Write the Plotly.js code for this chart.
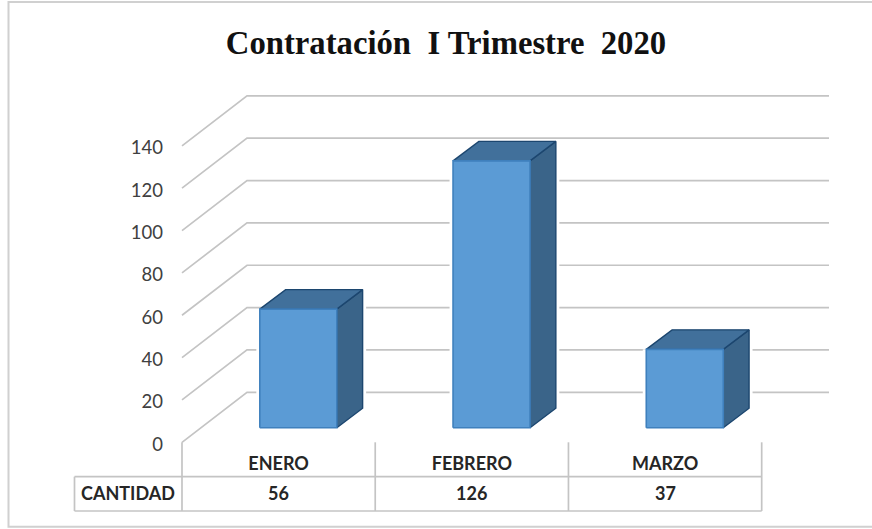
<!DOCTYPE html>
<html><head><meta charset="utf-8">
<script src="https://cdn.plot.ly/plotly-3.0.1.min.js"></script>
<style>html,body{margin:0;padding:0;background:#fff}</style></head>
<body><div id="chart" style="width:872px;height:529px"></div>
<script>
const categories = ["ENERO", "FEBRERO", "MARZO"];
const cantidad = [56, 126, 37];
const yTicks = [0, 20, 40, 60, 80, 100, 120, 140];
const rowLabel = "CANTIDAD";
const chartTitle = "Contratación  I Trimestre  2020";

const font = "Lato, 'Open Sans', sans-serif";
const W = 872, H = 529;
const L = 182, B = 442.3, gridRight = 829;
const pxX = 193.23, pxY = 2.1175;
const ux = p => p / pxX, uy = p => p / pxY;
const xStart = -0.5;
const xEnd = xStart + categories.length;
const xRange = [xStart - ux(L), xStart + ux(W - L)];
const yRange = [-uy(H - B), uy(B)];

const wallX = ux(65), wallY = uy(50);
const barOff = ux(19.7), barW = ux(77), barBase = uy(14.6);
const depX = ux(25.8), depY = uy(19.5);
const tableMid = -uy(476.7 - B), tableBot = -uy(511 - B), rowY = -uy(493 - B);
const tableLeft = xStart - ux(L - 74.5);
const wallRight = xStart + ux(gridRight - L);
const gridCol = "#c4c4c4";

const traces = [];
function line(x, y, color, width) {
  traces.push({type:"scatter", mode:"lines", x, y, hoverinfo:"skip", showlegend:false,
    line:{color, width}});
}
function poly(x, y, fill, color, width) {
  traces.push({type:"scatter", mode:"lines", x, y, fill:"toself", fillcolor:fill,
    hoverinfo:"skip", showlegend:false, line:{color, width}});
}
// walls
yTicks.forEach(v => line([xStart, xStart + wallX, wallRight], [v, v + wallY, v + wallY], gridCol, 1.7));
// table
for (let i = 0; i <= categories.length; i++) {
  line([xStart + i, xStart + i], [0, tableBot], gridCol, 1.7);
}
line([tableLeft, tableLeft], [tableMid, tableBot], gridCol, 1.7);
line([tableLeft, xEnd], [tableMid, tableMid], gridCol, 1.7);
line([tableLeft, xEnd], [tableBot, tableBot], gridCol, 1.7);
// bars
cantidad.forEach((v, i) => {
  const x0 = i + barOff - barW / 2, x1 = x0 + barW;
  const y0 = barBase, y1 = barBase + v;
  line([x0, x0], [y0, y1], "#ffffff", 7);
  line([x1 + depX, x1 + depX], [y0 + depY, y1 + depY], "#ffffff", 7);
  poly([x1, x1 + depX, x1 + depX, x1, x1], [y0, y0 + depY, y1 + depY, y1, y0], "#3a6489", "#1c466f", 1.4);
  poly([x0, x0 + depX, x1 + depX, x1, x0], [y1, y1 + depY, y1 + depY, y1, y1], "#41709b", "#1c466f", 1.4);
  poly([x0, x1, x1, x0, x0], [y0, y0, y1, y1, y0], "#5b9bd5", "#3f80bd", 1.6);
});

const cellFont = {family:font, size:18, color:"#262626"};
const annotations = categories.map((c, i) => ({
  x:i, xref:"x", y:rowY, yref:"y", text:"<b>" + cantidad[i] + "</b>", showarrow:false, font:cellFont
}));
annotations.push({x:(tableLeft + xStart) / 2, xref:"x", y:rowY, yref:"y", text:"<b>" + rowLabel + "</b>",
  showarrow:false, font:cellFont});

Plotly.newPlot("chart", traces, {
  width:W, height:H, paper_bgcolor:"#fff", plot_bgcolor:"rgba(0,0,0,0)", showlegend:false,
  margin:{l:0, r:0, t:0, b:0, pad:0},
  title:{text:"<b>" + chartTitle + "</b>", x:446 / W, xanchor:"center", y:1 - 43 / H, yanchor:"middle",
    font:{family:"'Liberation Serif', serif", size:32.7, color:"#111"}},
  xaxis:{type:"linear", range:xRange, anchor:"free", position:(H - B) / H, tickmode:"array",
    tickvals:categories.map((c, i) => i), ticktext:categories,
    showgrid:false, zeroline:false, showline:false, ticks:"", ticklabelstandoff:9,
    tickfont:{family:font, size:18, color:"#262626", weight:700}},
  yaxis:{range:yRange, anchor:"free", position:L / W, tickmode:"array", tickvals:yTicks,
    showgrid:false, zeroline:false, showline:false, ticks:"", ticklabelstandoff:19, ticklabelshift:2,
    tickfont:{family:font, size:18.5, color:"#404040"}},
  annotations,
  shapes:[{type:"rect", xref:"paper", yref:"paper", x0:8.5 / W, x1:(W + 10) / W,
    y0:(H - 526.7) / H, y1:(H - 2) / H, line:{color:"#d0d0d0", width:2}, fillcolor:"rgba(0,0,0,0)", layer:"below"}]
}, {displayModeBar:false, staticPlot:true});
</script></body></html>
